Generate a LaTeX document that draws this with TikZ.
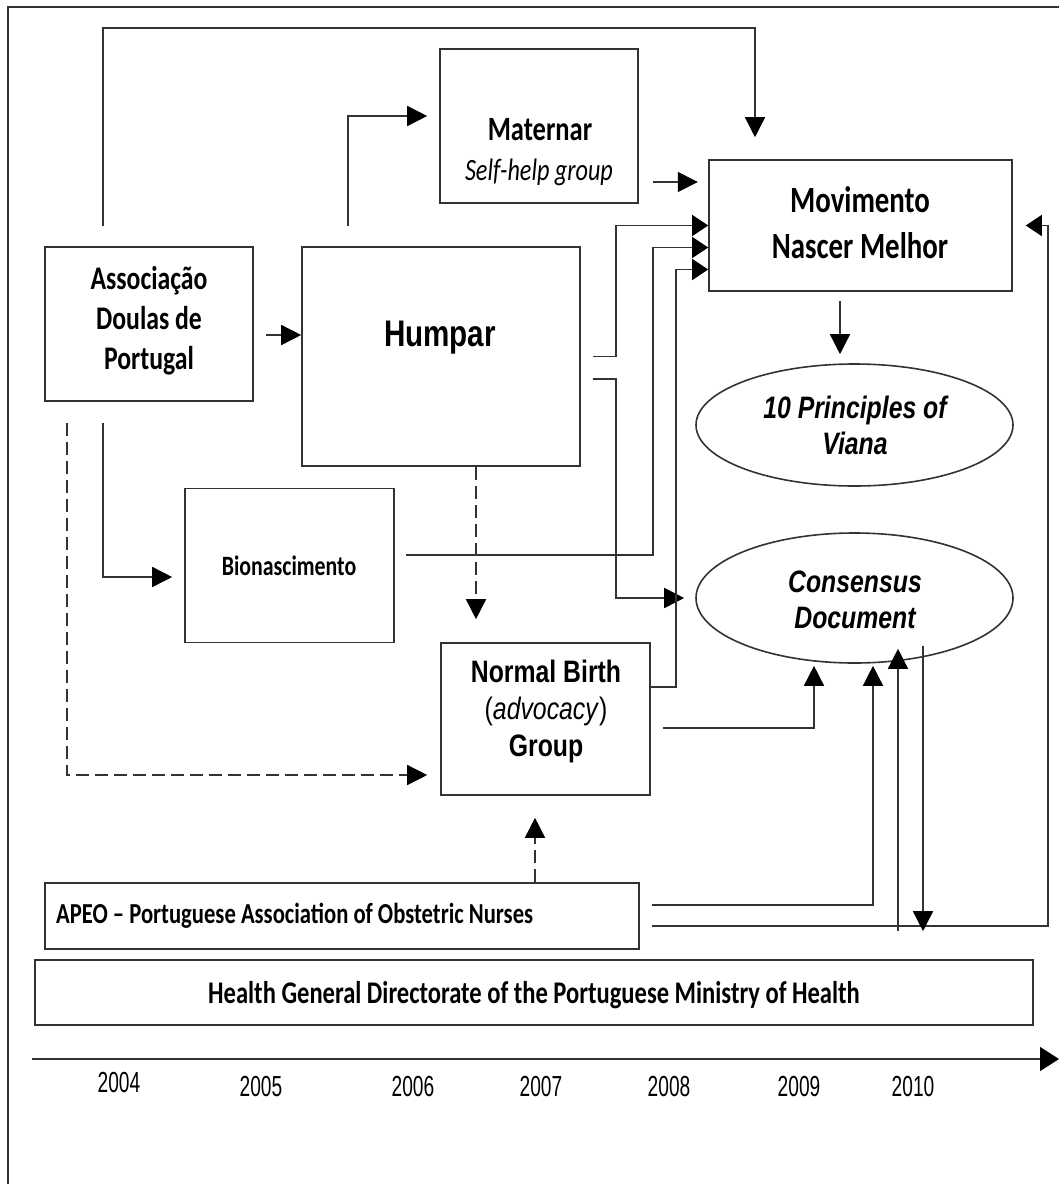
\documentclass[tikz,border=0pt]{standalone}
\usepackage{fontspec}
\usetikzlibrary{arrows.meta,shapes.geometric,calc}
\newfontfamily\calf[FakeStretch=0.78]{Carlito}
\newfontfamily\arif[FakeStretch=0.8]{Liberation Sans}
\newfontfamily\yrf[FakeStretch=0.66]{Liberation Sans}
\begin{document}
\begin{tikzpicture}[x=1pt,y=-1pt,
  box/.style={draw=black!80, line width=1.6pt, inner sep=0pt},
  ell/.style={ellipse, draw=black!80, line width=1.6pt, inner sep=0pt},
  txt/.style={inner sep=0pt, text=black},
  arr/.style={draw=black!80, line width=1.5pt, -{Triangle[length=20pt,width=20pt,color=black]}},
  sarr/.style={draw=black!80, line width=1.5pt, -{Triangle[length=16pt,width=21pt,color=black]}},
  darr/.style={arr, dash pattern=on 13pt off 6pt},
  frm/.style={draw=black!80, line width=1.5pt},
]
\useasboundingbox (0,0) rectangle (1059,1184);
\draw[frm] (8,1184) -- (8,7) -- (1059,7);

% boxes
\node[box, minimum width=208pt, minimum height=154pt] (ass) at (149,324) {};
\node[box, minimum width=278pt, minimum height=219pt] (hum) at (441,356.5) {};
\node[box, minimum width=198pt, minimum height=154pt] (mat) at (539,126) {};
\node[box, minimum width=303pt, minimum height=131pt] (mov) at (860.5,225.5) {};
\node[ell, minimum width=317pt, minimum height=122pt] (pri) at (854.5,425) {};
\node[ell, minimum width=317pt, minimum height=130pt] (con) at (854.5,598) {};
\node[box, minimum width=209pt, minimum height=154pt] (bio) at (289.5,565.5) {};
\node[box, minimum width=209pt, minimum height=152pt] (nb) at (545.5,719) {};
\node[box, minimum width=594pt, minimum height=66pt] (apeo) at (342,916) {};
\node[box, minimum width=998pt, minimum height=65pt] (hea) at (534,992.5) {};

% texts
\node[txt, font=\calf\bfseries\fontsize{33}{40}\selectfont, align=center] (asst) at (149,321) {Associação\\Doulas de\\Portugal};
\node[txt, font=\arif\bfseries\fontsize{37}{40}\selectfont] (humt) at (440,338) {Humpar};
\node[txt, font=\calf\bfseries\fontsize{34}{40}\selectfont] (matt) at (540,130) {Maternar};
\node[txt, font=\calf\itshape\fontsize{31}{36}\selectfont] (selft) at (539,172) {Self-help group};
\node[txt, font=\calf\bfseries\fontsize{37}{46}\selectfont, align=center] (movt) at (860,223) {Movimento\\Nascer Melhor};
\node[txt, font=\arif\bfseries\itshape\fontsize{31}{36}\selectfont, align=center] (prit) at (855,425) {10 Principles of\\Viana};
\node[txt, font=\arif\bfseries\itshape\fontsize{31}{36}\selectfont, align=center] (cont) at (855,600) {Consensus\\Document};
\node[txt, font=\calf\bfseries\fontsize{28}{32}\selectfont] (biot) at (289,566) {Bionascimento};
\node[txt, font=\arif\fontsize{31}{37}\selectfont, align=center] (nbt) at (546,711) {{\bfseries Normal Birth}\\(\textit{advocacy})\\{\bfseries Group}};
\node[txt, font=\calf\bfseries\fontsize{29}{32}\selectfont, anchor=west] (apeot) at (56,916) {APEO – Portuguese Association of Obstetric Nurses};
\node[txt, font=\calf\bfseries\fontsize{31.5}{34}\selectfont] (heat) at (534,995) {Health General Directorate of the Portuguese Ministry of Health};

% timeline
\coordinate (ts) at (32,1059);
\coordinate (te) at (1059,1059);
\draw[draw=black!80, line width=1.6pt, -{Triangle[length=19pt,width=24pt,color=black]}] (ts) -- (te);
\node[txt, font=\yrf\fontsize{29}{30}\selectfont] (y04) at (119,1083) {2004};
\node[txt, font=\yrf\fontsize{29}{30}\selectfont] (y05) at (261,1087) {2005};
\node[txt, font=\yrf\fontsize{29}{30}\selectfont] (y06) at (413,1087) {2006};
\node[txt, font=\yrf\fontsize{29}{30}\selectfont] (y07) at (541,1087) {2007};
\node[txt, font=\yrf\fontsize{29}{30}\selectfont] (y08) at (669,1087) {2008};
\node[txt, font=\yrf\fontsize{29}{30}\selectfont] (y09) at (799,1087) {2009};
\node[txt, font=\yrf\fontsize{29}{30}\selectfont] (y10) at (913,1087) {2010};

% connectors
\draw[arr] ([shift={(-46pt,20pt)}]ass.north) -- ++(0,-198) -| ([shift={(-105.5pt,22pt)}]mov.north);
\draw[arr] ([shift={(-93pt,20pt)}]hum.north) |- ([shift={(-12pt,10pt)}]mat.west);
\draw[arr] ([shift={(14pt,-56pt)}]mat.east) -- ++(45,0);
\draw[arr] ([shift={(12pt,-11pt)}]ass.east) coordinate (s1) -- (s1 -| hum.west);
\draw[arr] ([shift={(-46pt,-21pt)}]ass.south) |- ([shift={(-12pt,-11.5pt)}]bio.west);
\draw[darr] ([shift={(-82pt,-21pt)}]ass.south) |- ([shift={(-13pt,-56pt)}]nb.west);
\draw[darr] ([xshift=35pt]hum.south) -- ([shift={(-69.5pt,23pt)}]nb.north);
\draw[darr] ([xshift=193pt]apeo.north) -- ([shift={(-10.5pt,-22pt)}]nb.south);
\draw[arr] ([shift={(-20.5pt,-9pt)}]mov.south) -- ([shift={(-14.5pt,9pt)}]pri.north);
\draw[sarr] ([xshift=12pt]hum.east) -- ++(23,0) |- (mov.west);
\draw[arr] ([shift={(12pt,-22.5pt)}]hum.east) -- ++(23,0) |- ([xshift=-11pt]con.west);
\draw[sarr] ([shift={(11pt,10.5pt)}]bio.east) -- ++(247,0) |- ([yshift=-22pt]mov.west);
\draw[sarr] ([yshift=32pt]nb.east) -- ++(25,0) |- ([yshift=-44pt]mov.west);
\draw[arr] ([shift={(12pt,-9pt)}]nb.east) -| ([shift={(-40.5pt,-2pt)}]con.south);
\draw[arr] ([shift={(12pt,11pt)}]apeo.east) -| ([shift={(18.5pt,-2pt)}]con.south);
\draw[sarr] ([shift={(12pt,-10pt)}]apeo.east) -- ++(396,0) |- ([xshift=13pt]mov.east);
\draw[arr] ([shift={(364pt,28pt)}]hea.north) -- ([shift={(43.5pt,15pt)}]con.south);
\draw[arr] ([shift={(68.5pt,18pt)}]con.south) -- ([shift={(389pt,28pt)}]hea.north);
\end{tikzpicture}
\end{document}
